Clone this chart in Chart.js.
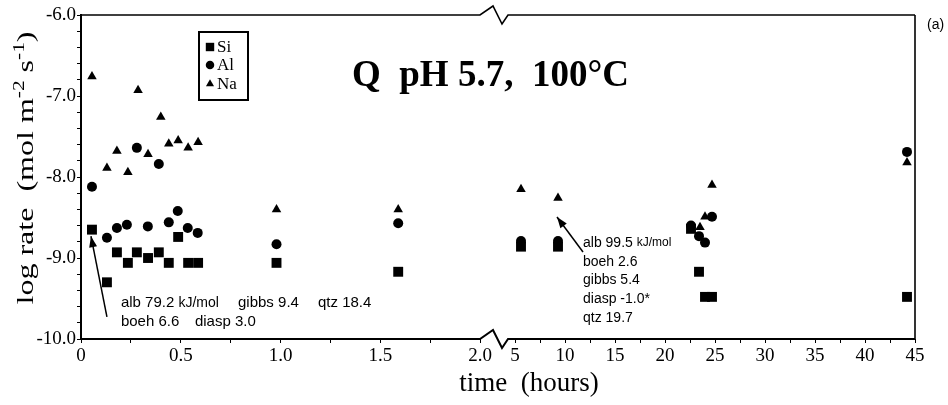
<!DOCTYPE html>
<html><head><meta charset="utf-8">
<script src="https://cdn.jsdelivr.net/npm/chart.js@4/dist/chart.umd.min.js"></script>
<style>html,body{margin:0;padding:0;background:#fff;}canvas{display:block}</style>
</head><body>
<canvas id="c" width="948" height="405"></canvas>
<script>
// ---------- data (time in hours, log rate in mol m-2 s-1) ----------
const siTime = [0.055, 0.13, 0.18, 0.235, 0.28, 0.336, 0.39, 0.44, 0.487, 0.537, 0.587, 0.98, 1.59, 5.6, 9.3, 22.6, 23.4, 24.0, 24.7, 44.2];
const siRate = [-8.65, -9.30, -8.93, -9.06, -8.93, -9.00, -8.93, -9.06, -8.74, -9.06, -9.06, -9.06, -9.17, -8.86, -8.86, -8.64, -9.17, -9.48, -9.48, -9.48];
const alTime = [0.055, 0.13, 0.18, 0.23, 0.28, 0.335, 0.39, 0.44, 0.485, 0.535, 0.585, 0.98, 1.59, 5.6, 9.3, 22.6, 23.4, 24.0, 24.7, 44.2];
const alRate = [-8.12, -8.75, -8.63, -8.59, -7.64, -8.61, -7.84, -8.56, -8.42, -8.63, -8.69, -8.83, -8.57, -8.79, -8.79, -8.60, -8.73, -8.81, -8.49, -7.69];
const naTime = [0.055, 0.13, 0.18, 0.235, 0.286, 0.336, 0.40, 0.44, 0.487, 0.537, 0.587, 0.98, 1.59, 5.6, 9.3, 23.5, 24.0, 24.7, 44.2];
const naRate = [-6.76, -7.89, -7.68, -7.94, -6.93, -7.72, -7.26, -7.59, -7.55, -7.64, -7.57, -8.40, -8.40, -8.15, -8.26, -8.62, -8.49, -8.10, -7.82];
const seriesNames = ['Si', 'Al', 'Na'];

const xTickValues = [0, 0.25, 0.5, 0.75, 1.0, 1.25, 1.5, 1.75, 2.0, 5, 7.5, 10, 12.5, 15, 17.5, 20, 22.5, 25, 27.5, 30, 32.5, 35, 37.5, 40, 42.5, 45];
const xTickLabels = ['0', '', '0.5', '', '1.0', '', '1.5', '', '2.0', '5', '', '10', '', '15', '', '20', '', '25', '', '30', '', '35', '', '40', '', '45'];
const yMin = -10.0, yMax = -6.0, yStep = 0.2;

const titleText = 'Q  pH 5.7,  100°C';
const panelLabel = '(a)';
const xTitleText = 'time  (hours)';
const yTitleParts = [['log rate  (mol m', 0], ['-2', 1], [' s', 0], ['-1', 1], [')', 0]];
const note1Row1 = [['alb 79.2 ', 0], ['kJ/mol', 1], ['gibbs 9.4', 0], ['qtz 18.4', 0]];
const note1Row2 = [['boeh 6.6', 0], ['diasp 3.0', 0]];
const note2Rows = [[['alb 99.5 ', 0], ['kJ/mol', 1]], [['boeh 2.6', 0]], [['gibbs 5.4', 0]], [['diasp -1.0*', 0]], [['qtz 19.7', 0]]];

// ---------- broken time axis (0–2 h, then 5–45 h) ----------
function hoursToU(t) {
  if (t <= 2) return t * 199.5;
  if (t >= 5) return 434 + (t - 5) * 10;
  return 399 + (t - 2) / 3 * 35;
}
function uToHours(u) {
  if (u <= 399) return u / 199.5;
  if (u >= 434) return 5 + (u - 434) / 10;
  return 2 + (u - 399) / 35 * 3;
}
const U_MAX = 834;
class BrokenTimeScale extends Chart.LinearScale {
  determineDataLimits() { this.min = 0; this.max = 45; }
  buildTicks() { return xTickValues.map(v => ({ value: v })); }
  getPixelForValue(v) { return this.getPixelForDecimal(hoursToU(v) / U_MAX); }
  getValueForPixel(p) { return uToHours(this.getDecimalForPixel(p) * U_MAX); }
}
BrokenTimeScale.id = 'brokenTime';
BrokenTimeScale.defaults = {};
Chart.register(BrokenTimeScale);

const SERIF = '"Liberation Serif", "Times New Roman", serif';
const SANS = '"Liberation Sans", Arial, sans-serif';

function pts(t, r) { return t.map((v, i) => ({ x: v, y: r[i] })); }
const styles = [
  { pointStyle: 'rect', radius: 7 },
  { pointStyle: 'circle', radius: 5 },
  { pointStyle: 'triangle', radius: 5.5 }
];

function drawArrow(ctx, x1, y1, x2, y2) {
  ctx.beginPath(); ctx.moveTo(x1, y1); ctx.lineTo(x2, y2); ctx.stroke();
  const a = Math.atan2(y2 - y1, x2 - x1), L = 11, W = 4;
  ctx.beginPath(); ctx.moveTo(x2, y2);
  ctx.lineTo(x2 - L * Math.cos(a) + W * Math.sin(a), y2 - L * Math.sin(a) - W * Math.cos(a));
  ctx.lineTo(x2 - L * Math.cos(a) - W * Math.sin(a), y2 - L * Math.sin(a) + W * Math.cos(a));
  ctx.closePath(); ctx.fill();
}
function drawChunks(ctx, chunks, x, y, big, small) {
  let cx = x;
  for (const [txt, s] of chunks) {
    ctx.font = s ? small : big;
    ctx.fillText(txt, cx, y);
    cx += ctx.measureText(txt).width;
  }
}

const decor = {
  id: 'decor',
  afterDraw(chart) {
    const ctx = chart.ctx, a = chart.chartArea;
    const xs = chart.scales.x, ys = chart.scales.y;
    ctx.save();
    ctx.strokeStyle = '#000'; ctx.fillStyle = '#000';
    // frame with break marks
    const b = xs.getPixelForValue(2);
    function zig(y, lw) {
      ctx.lineWidth = lw;
      ctx.beginPath();
      ctx.moveTo(a.left, y); ctx.lineTo(b, y);
      ctx.lineTo(b + 13, y - 9); ctx.lineTo(b + 22, y + 9); ctx.lineTo(b + 28, y);
      ctx.lineTo(a.right, y);
      ctx.stroke();
    }
    zig(a.top, 1.6);
    zig(a.bottom, 2);
    ctx.lineWidth = 1.6;
    ctx.beginPath(); ctx.moveTo(a.right, a.top); ctx.lineTo(a.right, a.bottom + 1); ctx.stroke();

    // title
    ctx.font = 'bold 37px ' + SERIF;
    ctx.textBaseline = 'alphabetic'; ctx.textAlign = 'left';
    ctx.fillText(titleText, 352, 86);

    // panel label
    ctx.font = '14px ' + SANS;
    ctx.textBaseline = 'middle';
    ctx.fillText(panelLabel, 927, 25);

    // legend
    ctx.lineWidth = 2;
    ctx.strokeRect(199, 32, 49, 68);
    const ly = [47, 65, 84];
    ctx.font = '17px ' + SERIF;
    seriesNames.forEach((n, i) => {
      Chart.helpers.drawPoint(ctx, { pointStyle: styles[i].pointStyle, radius: styles[i].radius * 0.85, rotation: 0, borderWidth: 0 }, 210, ly[i]);
      ctx.fillText(n, 217, ly[i] + 1);
    });

    // x title
    ctx.font = '27px ' + SERIF;
    ctx.textAlign = 'center';
    ctx.fillText(xTitleText, 529, 384);

    // y title (rotated, with superscripts)
    ctx.save();
    ctx.translate(33, 168);
    ctx.rotate(-Math.PI / 2);
    const big = '24px ' + SERIF, small = '16px ' + SERIF;
    let total = 0;
    for (const [t, s] of yTitleParts) { ctx.font = s ? small : big; total += ctx.measureText(t).width; }
    const stretch = 273 / total;
    ctx.scale(stretch, 1);
    ctx.textAlign = 'left'; ctx.textBaseline = 'alphabetic';
    let cx = -total / 2;
    for (const [t, s] of yTitleParts) {
      ctx.font = s ? small : big;
      ctx.fillText(t, cx, s ? -9 : 0);
      cx += ctx.measureText(t).width;
    }
    ctx.restore();

    // annotations
    ctx.textAlign = 'left'; ctx.textBaseline = 'middle';
    ctx.lineWidth = 1.5;
    const f1 = '15px ' + SANS, f1s = '14px ' + SANS;
    const r1 = ys.getPixelForValue(-9.556), r2 = ys.getPixelForValue(-9.79);
    drawChunks(ctx, note1Row1.slice(0, 2), xs.getPixelForValue(0.2), r1, f1, f1s);
    drawChunks(ctx, [note1Row1[2]], xs.getPixelForValue(0.787), r1, f1, f1s);
    drawChunks(ctx, [note1Row1[3]], xs.getPixelForValue(1.188), r1, f1, f1s);
    drawChunks(ctx, [note1Row2[0]], xs.getPixelForValue(0.2), r2, f1, f1s);
    drawChunks(ctx, [note1Row2[1]], xs.getPixelForValue(0.571), r2, f1, f1s);
    drawArrow(ctx, xs.getPixelForValue(0.13), ys.getPixelForValue(-9.728), xs.getPixelForValue(0.05), ys.getPixelForValue(-8.73));

    const f2 = '14px ' + SANS, f2s = '12px ' + SANS;
    const x2 = xs.getPixelForValue(11.8), y2 = ys.getPixelForValue(-8.815);
    note2Rows.forEach((row, i) => drawChunks(ctx, row, x2, y2 + i * 18.7, f2, f2s));
    drawArrow(ctx, xs.getPixelForValue(11.8), ys.getPixelForValue(-8.926), xs.getPixelForValue(9.2), ys.getPixelForValue(-8.494));
    ctx.restore();
  }
};

new Chart(document.getElementById('c'), {
  type: 'scatter',
  data: {
    datasets: [
      { label: seriesNames[0], data: pts(siTime, siRate), pointStyle: 'rect', pointRadius: 7, backgroundColor: '#000', borderColor: '#000', borderWidth: 0 },
      { label: seriesNames[1], data: pts(alTime, alRate), pointStyle: 'circle', pointRadius: 5, backgroundColor: '#000', borderColor: '#000', borderWidth: 0 },
      { label: seriesNames[2], data: pts(naTime, naRate), pointStyle: 'triangle', pointRadius: 5.5, backgroundColor: '#000', borderColor: '#000', borderWidth: 0 }
    ]
  },
  options: {
    responsive: false,
    animation: false,
    devicePixelRatio: 1,
    clip: false,
    layout: { padding: { top: 15, right: 33, left: 0, bottom: 0 } },
    plugins: { legend: { display: false }, tooltip: { enabled: false } },
    scales: {
      x: {
        type: 'brokenTime',
        position: 'bottom',
        border: { display: false },
        grid: { drawOnChartArea: false, drawTicks: true, tickLength: 4, color: '#000', lineWidth: 1 },
        ticks: {
          autoSkip: false, maxRotation: 0, minRotation: 0, padding: 2, color: '#000',
          font: { family: SERIF, size: 19 },
          callback: (v, i) => xTickLabels[i]
        },
        afterFit: s => { s.height = 66; }
      },
      y: {
        type: 'linear',
        min: yMin, max: yMax,
        border: { display: true, color: '#000', width: 2 },
        grid: { drawOnChartArea: false, drawTicks: true, tickLength: 4, color: '#000', lineWidth: 1 },
        ticks: {
          stepSize: yStep, autoSkip: false, padding: 1, color: '#000',
          font: { family: SERIF, size: 19 },
          callback: v => Math.abs(v - Math.round(v)) < 1e-6 ? Math.round(v).toFixed(1) : ''
        },
        afterFit: s => { s.width = 81; }
      }
    }
  },
  plugins: [decor]
});
</script>
</body></html>
